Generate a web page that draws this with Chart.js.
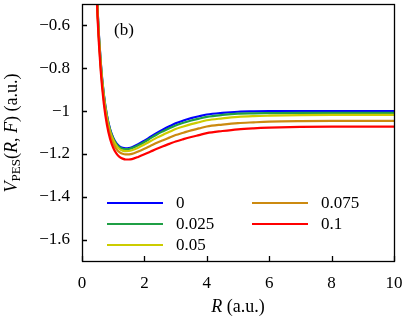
<!DOCTYPE html>
<html>
<head>
<meta charset="utf-8">
<script src="https://cdn.jsdelivr.net/npm/chart.js@4"></script>
<style>
  html, body { margin: 0; padding: 0; background: #fff; }
  #wrap { width: 406px; height: 325px; }
</style>
</head>
<body>
<div id="wrap"><canvas id="pesChart"></canvas></div>
<script>
// internuclear distance R (a.u.)
const R = [0.4, 0.5, 0.6, 0.7, 0.8, 0.9, 1.0, 1.1, 1.2, 1.3, 1.4, 1.5, 1.6, 1.8, 2.0, 2.2, 2.4, 2.6, 2.8, 3.0,
    3.25, 3.5, 3.75, 4.0, 4.5, 5.0, 5.5, 6.0, 7.0, 8.0, 9.0, 10.0];

// V_PES(R, F) for each field strength F
const vF0 = [-0.120, -0.527, -0.770, -0.922, -1.020, -1.084, -1.124, -1.150, -1.165, -1.172, -1.174, -1.173, -1.169,
    -1.155, -1.138, -1.120, -1.102, -1.086, -1.071, -1.057, -1.044, -1.033, -1.024, -1.016, -1.008, -1.003,
    -1.0015, -1.0006, -1.0001, -1.0, -1.0, -1.0];
const vF025 = [-0.123, -0.530, -0.773, -0.925, -1.023, -1.087, -1.127, -1.153, -1.1685, -1.1758, -1.178, -1.177, -1.173,
    -1.160, -1.144, -1.1265, -1.109, -1.094, -1.080, -1.067, -1.0545, -1.044, -1.035, -1.027, -1.018, -1.012,
    -1.0105, -1.0096, -1.0081, -1.008, -1.008, -1.008];
const vF05 = [-0.131, -0.538, -0.781, -0.933, -1.031, -1.095, -1.135, -1.1615, -1.177, -1.1845, -1.187, -1.1865, -1.183,
    -1.171, -1.156, -1.140, -1.124, -1.110, -1.097, -1.084, -1.072, -1.061, -1.052, -1.043, -1.034, -1.027,
    -1.0235, -1.0216, -1.0191, -1.018, -1.018, -1.018];
const vF075 = [-0.142, -0.550, -0.794, -0.946, -1.045, -1.109, -1.150, -1.176, -1.192, -1.1995, -1.2025, -1.202, -1.200,
    -1.189, -1.176, -1.162, -1.148, -1.136, -1.124, -1.112, -1.101, -1.090, -1.081, -1.072, -1.063, -1.056,
    -1.0525, -1.0496, -1.0471, -1.046, -1.046, -1.046];
const vF1 = [-0.160, -0.569, -0.813, -0.966, -1.065, -1.130, -1.171, -1.198, -1.214, -1.222, -1.226, -1.226, -1.224,
    -1.214, -1.202, -1.189, -1.176, -1.164, -1.153, -1.142, -1.131, -1.121, -1.112, -1.103, -1.093, -1.085,
    -1.0805, -1.0776, -1.0741, -1.073, -1.073, -1.073];

const fieldLabels = ['0', '0.025', '0.05', '0.075', '0.1'];
const colors = ['#0000ff', '#1f9f45', '#cccc00', '#cc8a10', '#ff0000'];
const xTicks = [0, 2, 4, 6, 8, 10];
const yTicks = [-1.6, -1.4, -1.2, -1, -0.8, -0.6];

const FONT = '"Liberation Serif", "Times New Roman", serif';

const series = [vF0, vF025, vF05, vF075, vF1];

const fmt = v => (v < 0 ? '\u2212' + Math.abs(v) : String(v));

// box, inward ticks, panel tag, legend and axis titles
const decor = {
    id: 'decor',
    afterDatasetsDraw(chart) {
        const { ctx, chartArea: a, scales } = chart;
        ctx.save();
        ctx.strokeStyle = '#000';
        ctx.lineWidth = 1.3;
        ctx.beginPath();
        xTicks.forEach(t => {
            const px = Math.round(scales.x.getPixelForValue(t)) + 0.5;
            ctx.moveTo(px, a.bottom);
            ctx.lineTo(px, a.bottom - 5);
        });
        yTicks.forEach(t => {
            const py = Math.round(scales.y.getPixelForValue(t)) + 0.5;
            ctx.moveTo(a.left, py);
            ctx.lineTo(a.left + 5, py);
        });
        ctx.stroke();
        ctx.strokeRect(a.left + 0.5, a.top + 0.5, a.right - a.left, a.bottom - a.top);

        ctx.fillStyle = '#000';
        ctx.font = '17px ' + FONT;
        ctx.textBaseline = 'middle';
        ctx.textAlign = 'center';
        ctx.fillText('(b)', a.left + 42, a.top + 27);

        // legend, filled column by column
        ctx.textAlign = 'left';
        chart.data.datasets.forEach((ds, i) => {
            const col = Math.floor(i / 3), row = i % 3;
            const x0 = a.left + 25 + col * 145;
            const y = a.bottom - 58 + row * 21;
            ctx.strokeStyle = ds.borderColor;
            ctx.lineWidth = 2;
            ctx.beginPath();
            ctx.moveTo(x0, y);
            ctx.lineTo(x0 + 56, y);
            ctx.stroke();
            ctx.fillText(ds.label, x0 + 69, y + 1);
        });
        ctx.restore();
    },
    afterDraw(chart) {
        const { ctx, chartArea: a } = chart;
        const drawRuns = (runs, x, y) => {
            let w = 0;
            runs.forEach(r => { ctx.font = r[1]; w += ctx.measureText(r[0]).width; });
            let cx = x - w / 2;
            runs.forEach(r => {
                ctx.font = r[1];
                ctx.fillText(r[0], cx, y + (r[2] || 0));
                cx += ctx.measureText(r[0]).width;
            });
        };
        ctx.save();
        ctx.fillStyle = '#000';
        ctx.textBaseline = 'alphabetic';
        ctx.textAlign = 'left';
        const up = '18px ' + FONT, it = 'italic 18px ' + FONT, sub = '13px ' + FONT;
        drawRuns([['R', it], [' (a.u.)', up]], (a.left + a.right) / 2, 312);

        ctx.translate(17, 133);
        ctx.rotate(-Math.PI / 2);
        drawRuns([['V', it], ['PES', sub, 3], ['(', up], ['R', it], [', ', up], ['F', it], [') (a.u.)', up]], 0, 0);
        ctx.restore();
    }
};

new Chart(document.getElementById('pesChart'), {
    type: 'line',
    data: {
        datasets: series.map((vals, i) => ({
            label: fieldLabels[i],
            data: R.map((r, j) => ({ x: r, y: vals[j] })),
            borderColor: colors[i],
            borderWidth: 2.2,
            pointRadius: 0,
            cubicInterpolationMode: 'monotone',
            fill: false,
            order: series.length - i
        }))
    },
    options: {
        responsive: true,
        maintainAspectRatio: false,
        animation: false,
        layout: { autoPadding: false, padding: { top: 4, right: 12, left: 0, bottom: 0 } },
        scales: {
            x: {
                type: 'linear',
                min: 0,
                max: 10,
                afterBuildTicks: scale => { scale.ticks = xTicks.map(v => ({ value: v })); },
                afterFit: scale => { scale.height = 64; scale.paddingLeft = 0; scale.paddingRight = 0; },
                grid: { display: false, drawTicks: false },
                border: { display: false },
                ticks: {
                    color: '#000',
                    padding: 12,
                    maxRotation: 0,
                    font: { family: FONT, size: 17 },
                    callback: v => fmt(v)
                }
            },
            y: {
                min: -1.7,
                max: -0.5,
                afterBuildTicks: scale => { scale.ticks = yTicks.map(v => ({ value: v })); },
                afterFit: scale => { scale.width = 82; scale.paddingTop = 0; scale.paddingBottom = 0; },
                grid: { display: false, drawTicks: false },
                border: { display: false },
                ticks: {
                    color: '#000',
                    padding: 12,
                    font: { family: FONT, size: 17 },
                    callback: v => fmt(v)
                }
            }
        },
        plugins: {
            legend: { display: false },
            tooltip: { enabled: false }
        }
    },
    plugins: [decor]
});
</script>
</body>
</html>
